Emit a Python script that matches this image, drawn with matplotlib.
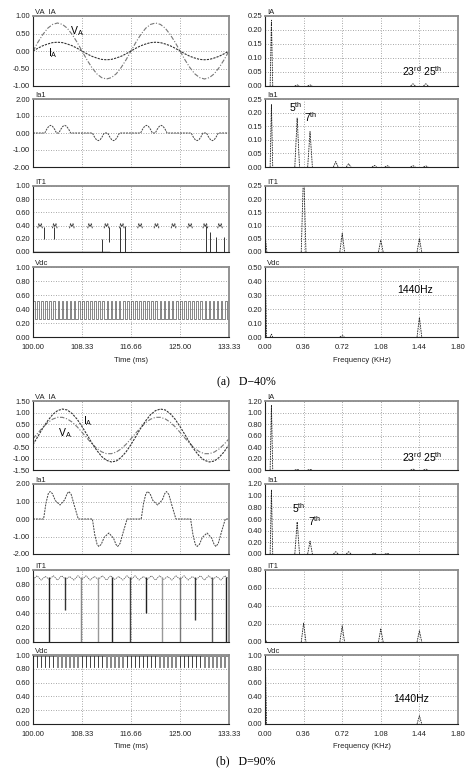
import numpy as np
import matplotlib
matplotlib.use("Agg")
import matplotlib.pyplot as plt

plt.rcParams['font.family'] = ['Liberation Sans Narrow', 'Liberation Sans', 'DejaVu Sans']
plt.rcParams['mathtext.default'] = 'regular'

W, H = 466, 771

# ---------------- axis ticks
time_ticks = [100.00, 108.33, 116.66, 125.00, 133.33]
time_labels = ["100.00", "108.33", "116.66", "125.00", "133.33"]
freq_ticks = [0.00, 0.36, 0.72, 1.08, 1.44, 1.80]
freq_labels = ["0.00", "0.36", "0.72", "1.08", "1.44", "1.80"]

# ---------------- VA / IA, one sample every 0.833 ms (41 samples)
va_a = [0.00, 0.25, 0.47, 0.65, 0.76, 0.80, 0.76, 0.65, 0.47, 0.25,
        0.00, -0.25, -0.47, -0.65, -0.76, -0.80, -0.76, -0.65, -0.47, -0.25,
        0.00, 0.25, 0.47, 0.65, 0.76, 0.80, 0.76, 0.65, 0.47, 0.25,
        0.00, -0.25, -0.47, -0.65, -0.76, -0.80, -0.76, -0.65, -0.47, -0.25, 0.00]
ia_a = [0.00, 0.08, 0.15, 0.20, 0.24, 0.25, 0.24, 0.20, 0.15, 0.08,
        0.00, -0.08, -0.15, -0.20, -0.24, -0.25, -0.24, -0.20, -0.15, -0.08,
        0.00, 0.08, 0.15, 0.20, 0.24, 0.25, 0.24, 0.20, 0.15, 0.08,
        0.00, -0.08, -0.15, -0.20, -0.24, -0.25, -0.24, -0.20, -0.15, -0.08, 0.00]
va_b = [-0.14, 0.11, 0.35, 0.56, 0.71, 0.79, 0.79, 0.72, 0.58, 0.38,
        0.14, -0.11, -0.35, -0.56, -0.71, -0.79, -0.79, -0.72, -0.58, -0.38,
        -0.14, 0.11, 0.35, 0.56, 0.71, 0.79, 0.79, 0.72, 0.58, 0.38,
        0.14, -0.11, -0.35, -0.56, -0.71, -0.79, -0.79, -0.72, -0.58, -0.38, -0.14]
ia_b = [-0.39, -0.04, 0.32, 0.64, 0.91, 1.08, 1.15, 1.11, 0.95, 0.71,
        0.39, 0.04, -0.32, -0.64, -0.91, -1.08, -1.15, -1.11, -0.95, -0.71,
        -0.39, -0.04, 0.32, 0.64, 0.91, 1.08, 1.15, 1.11, 0.95, 0.71,
        0.39, 0.04, -0.32, -0.64, -0.91, -1.08, -1.15, -1.11, -0.95, -0.71, -0.39]

# ---------------- Ia1 : current pulses (start time, sign, pulse profile)
ia1_a_starts = [102.0, 104.4, 110.1, 112.7, 118.3, 120.8, 126.9, 129.5]
ia1_a_signs = [1, 1, -1, -1, 1, 1, -1, -1]
ia1_a_offsets = [0.0, 0.33, 0.67, 1.0, 1.33, 1.67, 2.0]
ia1_a_shape = [0.0, 0.22, 0.39, 0.45, 0.39, 0.22, 0.0]

ia1_b_starts = [101.8, 110.1, 118.4, 126.8]
ia1_b_signs = [1, -1, 1, -1]
ia1_b_offsets = [0.0, 0.4, 0.8, 1.1, 1.5, 2.0, 2.8, 3.6, 4.0, 4.3, 4.7, 5.2, 5.9]
ia1_b_shape = [0.0, 0.9, 1.45, 1.57, 1.45, 1.05, 0.8, 1.1, 1.45, 1.57, 1.4, 0.8, 0.0]

# ---------------- IT1
it1_a_bumps = [101.2, 103.7, 106.6, 109.7, 112.5, 115.1, 118.2, 121.0, 123.9, 126.7, 129.3, 131.8]
it1_a_bump_offsets = [-0.4, -0.2, 0.0, 0.2, 0.4]
it1_a_bump_shape = [0.36, 0.43, 0.38, 0.43, 0.36]
it1_a_spike_t = [101.8, 103.5, 111.7, 113.0, 114.8, 115.6, 129.5, 130.1, 131.2, 132.4]
it1_a_spike_lo = [0.20, 0.20, 0.00, 0.15, 0.00, 0.00, 0.00, 0.00, 0.00, 0.00]
it1_a_spike_hi = [0.38, 0.38, 0.20, 0.38, 0.38, 0.40, 0.40, 0.30, 0.22, 0.22]
it1_a_base_end = 113.0

it1_b_ripple = [0.87, 0.92, 0.86, 0.91, 0.87, 0.92, 0.86, 0.92, 0.87, 0.91,
                0.86, 0.92, 0.87, 0.92, 0.86, 0.91, 0.87, 0.92, 0.86, 0.92,
                0.87, 0.91, 0.86, 0.92, 0.87, 0.92, 0.86, 0.91, 0.87, 0.92,
                0.86, 0.92, 0.87, 0.91, 0.86, 0.92, 0.87, 0.92, 0.86, 0.91,
                0.87, 0.92, 0.86, 0.92, 0.87, 0.91, 0.86, 0.92, 0.87]
it1_b_spike_t = [100.0, 102.8, 105.4, 108.1, 111.1, 113.4, 116.5, 119.3, 122.0, 125.0, 127.6, 130.4, 132.9]
it1_b_spike_lo = [0.0, 0.0, 0.45, 0.0, 0.0, 0.0, 0.0, 0.40, 0.0, 0.0, 0.30, 0.0, 0.0]
it1_b_spike_hi = 0.90

# ---------------- Vdc : PWM switch-on instants (ms), pulse width, levels
pwm_on_ms = [100.00, 100.69, 101.39, 102.08, 102.78, 103.47, 104.17, 104.86,
             105.56, 106.25, 106.94, 107.64, 108.33, 109.03, 109.72, 110.42,
             111.11, 111.81, 112.50, 113.19, 113.89, 114.58, 115.28, 115.97,
             116.67, 117.36, 118.06, 118.75, 119.44, 120.14, 120.83, 121.53,
             122.22, 122.92, 123.61, 124.31, 125.00, 125.69, 126.39, 127.08,
             127.78, 128.47, 129.17, 129.86, 130.56, 131.25, 131.94, 132.64]
vdc_a_width, vdc_a_lo, vdc_a_hi = 0.28, 0.26, 0.52
vdc_b_width, vdc_b_lo, vdc_b_hi = 0.62, 0.83, 0.98

# ---------------- spectra (kHz, magnitude)
sp_ia_a_f = [0.06, 0.30, 0.42, 1.38, 1.50]
sp_ia_a_h = [0.235, 0.004, 0.004, 0.008, 0.008]
sp_ia1_a_f = [0.06, 0.30, 0.42, 0.66, 0.78, 1.02, 1.14, 1.38, 1.50]
sp_ia1_a_h = [0.23, 0.18, 0.13, 0.02, 0.012, 0.006, 0.005, 0.005, 0.004]
sp_it1_a_f = [0.005, 0.36, 0.72, 1.08, 1.44]
sp_it1_a_h = [0.05, 0.32, 0.07, 0.045, 0.05]
sp_vdc_a_f = [0.003, 0.06, 0.72, 1.44]
sp_vdc_a_h = [0.48, 0.02, 0.01, 0.14]

sp_ia_b_f = [0.06, 0.30, 0.42, 1.38, 1.50]
sp_ia_b_h = [1.13, 0.01, 0.01, 0.015, 0.015]
sp_ia1_b_f = [0.06, 0.30, 0.42, 0.66, 0.78, 1.02, 1.14]
sp_ia1_b_h = [1.10, 0.55, 0.22, 0.04, 0.04, 0.01, 0.01]
sp_it1_b_f = [0.005, 0.36, 0.72, 1.08, 1.44]
sp_it1_b_h = [0.02, 0.21, 0.18, 0.145, 0.125]
sp_vdc_b_f = [0.003, 1.44]
sp_vdc_b_h = [0.92, 0.12]


def fmt(vals):
    return [f"{v:.2f}" for v in vals]


def add_ax(fig, x0, x1, y0, y1):
    return fig.add_axes([x0 / W, 1 - y1 / H, (x1 - x0) / W, (y1 - y0) / H])


def style(ax, xlim, xticks, xlabels, ylim, yticks, title, show_x):
    ax.set_xlim(xlim)
    ax.set_ylim(ylim)
    ax.set_xticks(xticks)
    ax.set_yticks(yticks)
    ax.set_yticklabels(fmt(yticks))
    ax.set_xticklabels(xlabels if show_x else [])
    ax.tick_params(length=0, labelsize=5.5, colors='#222')
    ax.tick_params(axis='y', pad=2)
    ax.tick_params(axis='x', pad=5)
    ax.grid(True, ls=(0, (1, 2)), color='#8a8a8a', lw=0.6)
    ax.set_axisbelow(True)
    for s in ('left', 'bottom'):
        ax.spines[s].set_color('#222')
        ax.spines[s].set_linewidth(0.8)
    for s in ('top', 'right'):
        ax.spines[s].set_color('#8a8a8a')
        ax.spines[s].set_linewidth(1.3)
    ax.text(0.01, 1.0, title, transform=ax.transAxes, fontsize=5.5,
            ha='left', va='bottom', color='#222')


def pulse_trace(starts, signs, offsets, shape, t0=100.0, t1=133.33):
    t, v = [t0], [0.0]
    for s, sg in zip(starts, signs):
        t += [s + o for o in offsets]
        v += [sg * y for y in shape]
    t.append(t1)
    v.append(0.0)
    return t, v


def pwm_trace(on_times, width, lo, hi, t_end=133.33):
    t, v = [], []
    for on in on_times:
        t += [on, on, on + width, on + width]
        v += [lo, hi, hi, lo]
    t.append(t_end)
    v.append(lo)
    return t, v


def spectrum(ax, freqs, heights, hw=0.022):
    for f, h in zip(freqs, heights):
        w = 0.012 if f < 0.1 else hw
        ax.plot([f - w, f, f + w], [0, h, 0], ls=(0, (2, 1)), color='#222', lw=0.6)


wave_kw = dict(ls=(0, (2, 1)), color='#444', lw=0.7)
t_sine = np.linspace(100, 133.33, 41)
t_ripple = np.linspace(100, 133.33, 49)

fig = plt.figure(figsize=(W / 100, H / 100), dpi=100)

LX = (33, 229)
RX = (265, 458)
rows = {
    'a': [(16, 86), (99, 167), (186, 252), (267, 337)],
    'b': [(401, 470), (484, 554), (570, 642), (655, 724)],
}
tlim = (100, 133.33)
flim = (0, 1.8)

for grp in ('a', 'b'):
    r = rows[grp]
    # ---- left column (time domain)
    ax1 = add_ax(fig, *LX, *r[0])
    ax2 = add_ax(fig, *LX, *r[1])
    ax3 = add_ax(fig, *LX, *r[2])
    ax4 = add_ax(fig, *LX, *r[3])
    # ---- right column (spectra)
    bx1 = add_ax(fig, *RX, *r[0])
    bx2 = add_ax(fig, *RX, *r[1])
    bx3 = add_ax(fig, *RX, *r[2])
    bx4 = add_ax(fig, *RX, *r[3])

    if grp == 'a':
        va, ia = va_a, ia_a
        y1 = [-1.0, -0.5, 0.0, 0.5, 1.0]
        ia1_t, ia1_v = pulse_trace(ia1_a_starts, ia1_a_signs, ia1_a_offsets, ia1_a_shape)
    else:
        va, ia = va_b, ia_b
        y1 = [-1.5, -1.0, -0.5, 0.0, 0.5, 1.0, 1.5]
        ia1_t, ia1_v = pulse_trace(ia1_b_starts, ia1_b_signs, ia1_b_offsets, ia1_b_shape)
    ia1_ticks = [-2.0, -1.0, 0.0, 1.0, 2.0]

    ax1.plot(t_sine, va, ls=(0, (4, 1.5, 1, 1.5)), color='#777', lw=0.8)
    ax1.plot(t_sine, ia, ls=(0, (2, 1)), color='#333', lw=0.8)
    style(ax1, tlim, time_ticks, time_labels, (y1[0], y1[-1]), y1, "VA  IA", False)

    ax2.plot(ia1_t, ia1_v, **wave_kw)
    style(ax2, tlim, time_ticks, time_labels, (-2, 2), ia1_ticks, "Ia1", False)

    unit_ticks = [0.0, 0.2, 0.4, 0.6, 0.8, 1.0]
    if grp == 'a':
        ax3.plot([100, it1_a_base_end], [0, 0], color='#111', lw=1.0)
        for c in it1_a_bumps:
            ax3.plot([c + o for o in it1_a_bump_offsets], it1_a_bump_shape, **wave_kw)
        ax3.vlines(it1_a_spike_t, it1_a_spike_lo, it1_a_spike_hi, color='#333', lw=0.7)
        vt, vv = pwm_trace(pwm_on_ms, vdc_a_width, vdc_a_lo, vdc_a_hi)
    else:
        ax3.plot(t_ripple, it1_b_ripple, ls=(0, (1.5, 1)), color='#555', lw=0.6)
        shades = ['#111', '#222', '#333', '#888', '#999', '#222', '#444',
                  '#222', '#999', '#777', '#333', '#555', '#222']
        ax3.vlines(it1_b_spike_t, it1_b_spike_lo, it1_b_spike_hi, colors=shades, lw=1.0)
        vt, vv = pwm_trace(pwm_on_ms, vdc_b_width, vdc_b_lo, vdc_b_hi)
    style(ax3, tlim, time_ticks, time_labels, (0, 1.0), unit_ticks, "IT1", False)

    ax4.plot(vt, vv, color='#444', lw=0.45)
    style(ax4, tlim, time_ticks, time_labels, (0, 1.0), unit_ticks, "Vdc", True)

    # ---- spectra
    if grp == 'a':
        spectrum(bx1, sp_ia_a_f, sp_ia_a_h)
        spectrum(bx2, sp_ia1_a_f, sp_ia1_a_h)
        spectrum(bx3, sp_it1_a_f, sp_it1_a_h)
        spectrum(bx4, sp_vdc_a_f, sp_vdc_a_h)
        q = [0.0, 0.05, 0.10, 0.15, 0.20, 0.25]
        style(bx1, flim, freq_ticks, freq_labels, (0, 0.25), q, "IA", False)
        style(bx2, flim, freq_ticks, freq_labels, (0, 0.25), q, "Ia1", False)
        style(bx3, flim, freq_ticks, freq_labels, (0, 0.25), q, "IT1", False)
        style(bx4, flim, freq_ticks, freq_labels, (0, 0.5),
              [0.0, 0.1, 0.2, 0.3, 0.4, 0.5], "Vdc", True)
        bx1.text(1.47, 0.055, "23$^{rd}$ 25$^{th}$", fontsize=7.5, ha='center', va='center')
        bx2.text(0.29, 0.222, "5$^{th}$", fontsize=7.5, ha='center', va='center')
        bx2.text(0.43, 0.182, "7$^{th}$", fontsize=7.5, ha='center', va='center')
        bx4.text(1.40, 0.335, "1440Hz", fontsize=7.5, ha='center', va='center')
        ax1.text(107.5, 0.58, "V$_A$", fontsize=7.5, ha='center', va='center')
        ax1.text(103.4, -0.07, "I$_A$", fontsize=7.5, ha='center', va='center')
    else:
        spectrum(bx1, sp_ia_b_f, sp_ia_b_h)
        spectrum(bx2, sp_ia1_b_f, sp_ia1_b_h)
        spectrum(bx3, sp_it1_b_f, sp_it1_b_h)
        spectrum(bx4, sp_vdc_b_f, sp_vdc_b_h)
        q12 = [0.0, 0.2, 0.4, 0.6, 0.8, 1.0, 1.2]
        style(bx1, flim, freq_ticks, freq_labels, (0, 1.2), q12, "IA", False)
        style(bx2, flim, freq_ticks, freq_labels, (0, 1.2), q12, "Ia1", False)
        style(bx3, flim, freq_ticks, freq_labels, (0, 0.8),
              [0.0, 0.2, 0.4, 0.6, 0.8], "IT1", False)
        style(bx4, flim, freq_ticks, freq_labels, (0, 1.0), unit_ticks, "Vdc", True)
        bx1.text(1.47, 0.23, "23$^{rd}$ 25$^{th}$", fontsize=7.5, ha='center', va='center')
        bx2.text(0.31, 0.78, "5$^{th}$", fontsize=7.5, ha='center', va='center')
        bx2.text(0.46, 0.56, "7$^{th}$", fontsize=7.5, ha='center', va='center')
        bx4.text(1.36, 0.36, "1440Hz", fontsize=7.5, ha='center', va='center')
        ax1.text(109.3, 0.62, "I$_A$", fontsize=7.5, ha='center', va='center')
        ax1.text(105.4, 0.10, "V$_A$", fontsize=7.5, ha='center', va='center')

    ax4.set_xlabel("Time (ms)", fontsize=5.5, labelpad=4, color='#222')
    bx4.set_xlabel("Frequency (KHz)", fontsize=5.5, labelpad=4, color='#222')

serif = ['Liberation Serif', 'DejaVu Serif']
fig.text(246 / W, 1 - 382 / H, "(a)   D\u221240%", family=serif, fontsize=8.5,
         ha='center', va='center')
fig.text(246 / W, 1 - 761 / H, "(b)   D=90%", family=serif, fontsize=8.5,
         ha='center', va='center')

fig.savefig("out.png", dpi=100)
